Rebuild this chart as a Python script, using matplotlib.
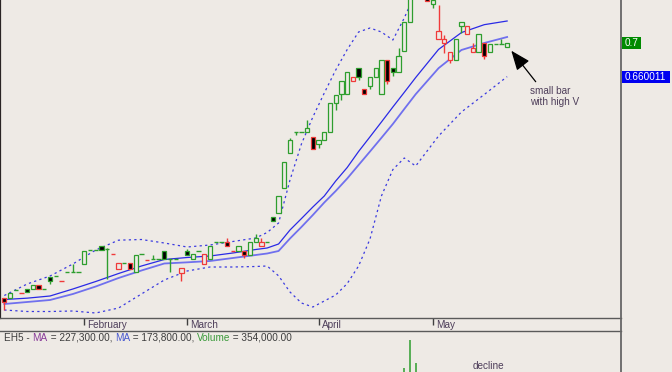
import matplotlib
matplotlib.use('Agg')
import matplotlib.pyplot as plt
from matplotlib.patches import Rectangle
from matplotlib.lines import Line2D

plt.rcParams['font.family'] = ['Liberation Sans', 'DejaVu Sans']

# ---------------- data ----------------
months = ['February', 'March', 'April', 'May']
month_start_idx = [14, 32, 55, 75]

opens = [0.3948, 0.3948, 0.4046, 0.4006, 0.4056, 0.4048, 0.4100, 0.4052, 0.4200, 0.4208,
         0.4152, 0.4252, 0.4256, 0.4258, 0.4348, 0.4516, 0.4520, 0.4568, 0.4538, 0.4468,
         0.4296, 0.4364, 0.4360, 0.4260, 0.4467, 0.4405, 0.4408, 0.4411, 0.4512, 0.4413,
         0.4414, 0.4248, 0.4512, 0.4408, 0.4512, 0.4348, 0.4408, 0.4612, 0.4615, 0.4612,
         0.4512, 0.4512, 0.4512, 0.4460, 0.4616, 0.4564, 0.4618, 0.4916, 0.4968, 0.5268,
         0.5680, 0.5932, 0.5935, 0.5935, 0.5880, 0.5788, 0.5836, 0.5932, 0.6288, 0.6388,
         0.6388, 0.6548, 0.6700, 0.6448, 0.6492, 0.6600, 0.6388, 0.6800, 0.6700, 0.6652,
         0.6908, 0.7252, 0.7616, 0.7856, 0.7760, 0.7472, 0.7052, 0.7000, 0.6800, 0.6800,
         0.7208, 0.7112, 0.6900, 0.6900, 0.7000, 0.6900, 0.6990, 0.6992, 0.6952]
highs = [0.3950, 0.4008, 0.4046, 0.4006, 0.4056, 0.4100, 0.4100, 0.4052, 0.4200, 0.4208,
         0.4152, 0.4252, 0.4348, 0.4258, 0.4514, 0.4516, 0.4520, 0.4568, 0.4544, 0.4468,
         0.4360, 0.4364, 0.4360, 0.4464, 0.4467, 0.4405, 0.4460, 0.4411, 0.4512, 0.4413,
         0.4414, 0.4300, 0.4528, 0.4468, 0.4512, 0.4468, 0.4568, 0.4612, 0.4615, 0.4660,
         0.4512, 0.4568, 0.4512, 0.4616, 0.4712, 0.4660, 0.4618, 0.4916, 0.5168, 0.5580,
         0.5868, 0.5932, 0.5935, 0.6080, 0.5880, 0.5840, 0.5932, 0.6288, 0.6380, 0.6552,
         0.6652, 0.6600, 0.6700, 0.6448, 0.6600, 0.6700, 0.6800, 0.6800, 0.6700, 0.6940,
         0.7252, 0.7700, 0.7900, 0.8050, 0.7800, 0.7516, 0.7460, 0.7100, 0.6900, 0.7052,
         0.7252, 0.7208, 0.7000, 0.7108, 0.7000, 0.6986, 0.6990, 0.7048, 0.7000]
lows = [0.3800, 0.3948, 0.4046, 0.4006, 0.4011, 0.4048, 0.4048, 0.4052, 0.4108, 0.4208,
        0.4152, 0.4252, 0.4256, 0.4258, 0.4348, 0.4516, 0.4520, 0.4522, 0.4172, 0.4468,
        0.4296, 0.4364, 0.4296, 0.4260, 0.4467, 0.4405, 0.4408, 0.4411, 0.4412, 0.4260,
        0.4414, 0.4152, 0.4460, 0.4408, 0.4512, 0.4348, 0.4408, 0.4612, 0.4615, 0.4568,
        0.4512, 0.4512, 0.4428, 0.4460, 0.4616, 0.4564, 0.4618, 0.4868, 0.4968, 0.5268,
        0.5680, 0.5896, 0.5935, 0.5935, 0.5732, 0.5740, 0.5836, 0.5932, 0.6200, 0.6320,
        0.6388, 0.6548, 0.6560, 0.6388, 0.6452, 0.6600, 0.6388, 0.6508, 0.6608, 0.6652,
        0.6908, 0.7252, 0.7616, 0.7856, 0.7510, 0.7420, 0.7052, 0.6884, 0.6764, 0.6800,
        0.7120, 0.7112, 0.6900, 0.6900, 0.6808, 0.6900, 0.6990, 0.6992, 0.6952]
closes = [0.3900, 0.4008, 0.4046, 0.4006, 0.4011, 0.4100, 0.4048, 0.4052, 0.4148, 0.4208,
          0.4152, 0.4252, 0.4256, 0.4258, 0.4514, 0.4516, 0.4520, 0.4522, 0.4538, 0.4468,
          0.4360, 0.4364, 0.4296, 0.4464, 0.4467, 0.4405, 0.4408, 0.4411, 0.4412, 0.4413,
          0.4414, 0.4300, 0.4460, 0.4468, 0.4512, 0.4468, 0.4568, 0.4612, 0.4615, 0.4568,
          0.4512, 0.4568, 0.4464, 0.4616, 0.4660, 0.4616, 0.4618, 0.4868, 0.5168, 0.5580,
          0.5836, 0.5932, 0.5935, 0.5988, 0.5732, 0.5840, 0.5932, 0.6288, 0.6380, 0.6552,
          0.6652, 0.6600, 0.6602, 0.6388, 0.6600, 0.6700, 0.6800, 0.6548, 0.6652, 0.6852,
          0.7252, 0.7640, 0.7880, 0.8000, 0.7510, 0.7516, 0.7152, 0.7052, 0.6900, 0.7052,
          0.7252, 0.7208, 0.6948, 0.7108, 0.6848, 0.6986, 0.6990, 0.6992, 0.7000]

line_idx = [0, 4, 8, 12, 16, 20, 24, 28, 32, 36, 40, 44, 46, 48, 50, 52, 54, 56, 58, 60,
            62, 64, 66, 68, 70, 72, 76, 80, 84, 88]
ma_fast = [0.3926, 0.3942, 0.3968, 0.4052, 0.4142, 0.4238, 0.4328, 0.4406, 0.4430, 0.4448,
           0.4484, 0.4526, 0.4544, 0.4592, 0.4760, 0.4897, 0.5036, 0.5168, 0.5348, 0.5509,
           0.5702, 0.5878, 0.6056, 0.6236, 0.6412, 0.6590, 0.6927, 0.7129, 0.7224, 0.7268]
ma_slow = [0.3872, 0.3896, 0.3920, 0.3992, 0.4082, 0.4184, 0.4274, 0.4358, 0.4372, 0.4388,
           0.4424, 0.4460, 0.4478, 0.4508, 0.4658, 0.4796, 0.4940, 0.5090, 0.5228, 0.5377,
           0.5540, 0.5702, 0.5866, 0.6032, 0.6212, 0.6390, 0.6702, 0.6920, 0.7004, 0.7076]
bb_upper = [0.3974, 0.4112, 0.4208, 0.4352, 0.4520, 0.4638, 0.4646, 0.4604, 0.4556, 0.4580,
            0.4622, 0.4664, 0.4730, 0.4844, 0.5360, 0.5792, 0.6116, 0.6404, 0.6680, 0.6924,
            0.7136, 0.7184, 0.7136, 0.7040, 0.7304, 0.7616, 0.7964, 0.8072, 0.8067, 0.7936]
bb_lower = [0.3800, 0.3782, 0.3782, 0.3788, 0.3764, 0.3824, 0.3992, 0.4160, 0.4268, 0.4316,
            0.4316, 0.4322, 0.4328, 0.4210, 0.4016, 0.3884, 0.3836, 0.3908, 0.3980, 0.4116,
            0.4328, 0.4652, 0.5168, 0.5485, 0.5624, 0.5528, 0.5888, 0.6176, 0.6386, 0.660011]

vol_idx = [70, 71, 72]
volumes = [1254000, 1820000, 1366000]
vol_title = [("EH5 - ", '#3c3c3c'), ("MA", '#8a3c9a'), (" = 227,300.00, ", '#3c3c3c'),
             ("MA", '#4a5ad0'), (" = 173,800.00, ", '#3c3c3c'), ("Volume", '#3a9a3a'),
             (" = 354,000.00", '#3c3c3c')]

# ---------------- style ----------------
BG = '#EEEAE5'
GREEN = '#2E9E2E'
RED = '#F03A3A'
TXT = '#4E3E5A'
W, H = 672, 372
FS = 7.2
spacing = 5.714
x0 = 4.3

def fx(px):
    return px / W

def fy(py):
    return 1 - py / H

xl = ((0 - x0) / spacing, (621 - x0) / spacing)

fig = plt.figure(figsize=(W / 100, H / 100), dpi=100)
fig.patch.set_facecolor(BG)

ax = fig.add_axes([0, fy(318), fx(621), 318 / H])
ax.set_facecolor(BG)
ax.set_xlim(*xl)
ax.set_ylim(0.752 - 0.0012 * 318, 0.752)
for s in ['top', 'right', 'bottom']:
    ax.spines[s].set_visible(False)
ax.spines['left'].set_color('#2a2424')
ax.spines['left'].set_linewidth(1.6)
ax.set_xticks([])
ax.set_yticks([])

# lines
ax.plot(line_idx, bb_upper, color='#3a3ae0', lw=0.9, ls=(0, (1.8, 2.6)), zorder=1)
ax.plot(line_idx, bb_lower, color='#3a3ae0', lw=0.9, ls=(0, (1.8, 2.6)), zorder=1)
ax.plot(line_idx, ma_slow, color='#7070ee', lw=1.3, zorder=2)
ax.plot(line_idx, ma_fast, color='#2a2ae6', lw=0.9, zorder=2)

# candles
colors = []
for i in range(len(closes)):
    prev = closes[i - 1] if i > 0 else opens[0]
    colors.append(GREEN if closes[i] >= prev else RED)

bw = 0.75
for i, (o, h, l, c) in enumerate(zip(opens, highs, lows, closes)):
    col = colors[i]
    if h > l:
        ax.vlines(i, l, h, color=col, lw=1.0, zorder=3)
    if o == c:
        ax.hlines(o, i - bw / 2, i + bw / 2, color=col, lw=1.0, zorder=4)
    else:
        fc = 'black' if c < o else BG
        ax.add_patch(Rectangle((i - bw / 2, min(o, c)), bw, abs(c - o), facecolor=fc,
                               edgecolor=col, lw=0.9, zorder=4))

# annotation
ax.annotate('', xy=((511.3 - x0) / spacing, 0.752 - 0.0012 * 50.7),
            xytext=((535.7 - x0) / spacing, 0.752 - 0.0012 * 81.7),
            arrowprops=dict(arrowstyle='-|>,head_length=0.75,head_width=0.3', color='black',
                            lw=0.9, mutation_scale=16, shrinkA=0, shrinkB=0))
ax.text((529.7 - x0) / spacing, 0.752 - 0.0012 * 96.8, 'small bar\nwith high V',
        fontsize=FS, color=TXT, ha='left', va='center', linespacing=1.15)

# date strip
axd = fig.add_axes([0, fy(331), fx(621), 13 / H])
axd.set_xlim(*xl)
axd.set_ylim(0, 13)
axd.axis('off')
for m, idx in zip(months, month_start_idx):
    axd.vlines(idx, 6, 13, color='#404040', lw=1.0)
    axd.text(idx + 0.55, 6.3, m, fontsize=FS, color=TXT, ha='left', va='center')

# volume panel
axv = fig.add_axes([0, fy(431), fx(621), 100 / H])
axv.set_facecolor(BG)
axv.patch.set_alpha(0)
axv.set_xlim(*xl)
axv.set_ylim(0, 2000000)
axv.axis('off')
axv.vlines(vol_idx, 0, volumes, colors=[colors[i] for i in vol_idx], lw=1.1)
axv.text((473 - x0) / spacing, 1300000, 'decline', fontsize=FS, color=TXT,
         ha='left', va='center')

prev = fig.text(fx(4), fy(338), vol_title[0][0], fontsize=FS, color=vol_title[0][1],
                ha='left', va='center')
for txt, col in vol_title[1:]:
    prev = axv.annotate(txt, xy=(1, 0), xycoords=prev, ha='left', va='bottom',
                        fontsize=FS, color=col, annotation_clip=False)

# separators
fig.add_artist(Line2D([0, fx(621)], [fy(318.3), fy(318.3)], color='#5a5a5a', lw=1.0))
fig.add_artist(Line2D([0, fx(621)], [fy(331.3), fy(331.3)], color='#5a5a5a', lw=1.0))
fig.add_artist(Line2D([fx(621.3), fx(621.3)], [0, 1], color='#666666', lw=1.3))

# right-side value labels
def fig_y_of(v):
    d = ax.transData.transform((0, v))
    return fig.transFigure.inverted().transform(d)[1]

for val, bg, x_left, width in [(closes[-1], '#008A00', 621.5, 19.5),
                               (bb_lower[-1], '#0000F0', 621.5, 48.5)]:
    yc = fig_y_of(val)
    fig.add_artist(Rectangle((fx(x_left), yc - 6 / H), width / W, 12 / H,
                             transform=fig.transFigure, facecolor=bg, edgecolor='none'))
    fig.text(fx(625), yc, f"{val:g}", fontsize=FS, color='white', ha='left', va='center')

fig.savefig('out.png', dpi=100, facecolor=BG)
